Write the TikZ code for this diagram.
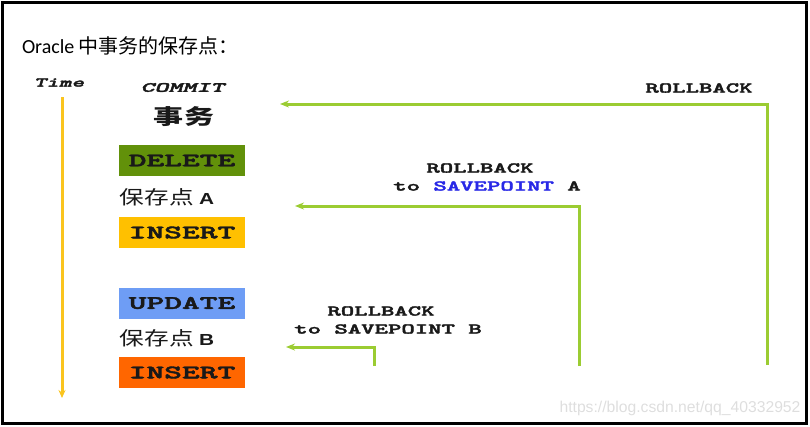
\documentclass[tikz,border=0pt]{standalone}
\usepackage{fontspec}
\usepackage{graphicx}
\setmainfont{Carlito}
\newfontfamily\cjk{Noto Sans CJK SC}
\newfontfamily\lsans{Liberation Sans}
\newfontfamily\monob{lmmonolt10-bold}[Extension=.otf, FakeBold=2]
\newfontfamily\monobi{lmmonolt10-boldoblique}[Extension=.otf, FakeBold=2]
\usetikzlibrary{arrows.meta}
\definecolor{delgreen}{RGB}{98,145,10}
\definecolor{insyellow}{RGB}{255,192,0}
\definecolor{updblue}{RGB}{110,157,245}
\definecolor{insorange}{RGB}{255,102,0}
\definecolor{rbgreen}{RGB}{155,204,50}
\definecolor{timeyellow}{RGB}{250,196,30}
\definecolor{svblue}{RGB}{40,40,230}
\definecolor{txt}{RGB}{25,25,25}
\definecolor{wm}{RGB}{222,222,222}
\newcommand{\sx}[2]{\scalebox{#1}[1]{#2}}
\begin{document}
\begin{tikzpicture}[x=1pt,y=-1pt,
  every node/.style={inner sep=0pt, outer sep=0pt},
  ann/.style={font=\fontsize{15}{15}\selectfont\monob, text=txt},
  opbox/.style={minimum width=126pt, minimum height=31pt, text=txt,
    font=\fontsize{19}{19}\selectfont\monob},
  cjklabel/.style={font=\fontsize{19}{19}\selectfont, text=txt},
  rb/.style={draw=rbgreen, line width=3pt, -{Stealth[length=9pt,width=7pt]}},
  timeline/.style={draw=timeyellow, line width=3pt, -{Stealth[length=8pt,width=7pt]}}
]
\useasboundingbox (0,0) rectangle (810,426);
\draw[line width=3pt] (2.5,2.5) rectangle (806.5,423.5);

% title
\node[anchor=base west, font=\fontsize{20}{20}\selectfont] (title) at (22,53)
  {Oracle {\cjk 中事务的保存点：}};

% time axis
\node[font=\fontsize{13.6}{13.6}\selectfont\monobi, text=txt] (time) at (59,82.5) {\sx{1.76}{Time}};
\coordinate (t0) at (62,97);
\coordinate (t1) at (62,398);
\draw[timeline] (t0) -- (t1);

% commit / transaction
\node[font=\fontsize{14}{14}\selectfont\monobi, text=txt] (commit) at (182.5,87.5) {\sx{1.9}{COMMIT}};
\node[font=\fontsize{21}{21}\selectfont\cjk\bfseries, text=txt] (tx) at (184,117) {\sx{1.43}{事务}};

% operations
\node[opbox, fill=delgreen] (del) at (182,160.5) {\sx{1.78}{DELETE}};
\node[cjklabel] (svA) at (167,197) {\sx{1.3}{{\cjk 保存点}\hspace{4pt}{\lsans\bfseries\fontsize{16}{16}\selectfont A}}};
\node[opbox, fill=insyellow] (insA) at (182,232.5) {\sx{1.78}{INSERT}};
\node[opbox, fill=updblue] (upd) at (182,303) {\sx{1.78}{UPDATE}};
\node[cjklabel] (svB) at (167,338.5) {\sx{1.3}{{\cjk 保存点}\hspace{4pt}{\lsans\bfseries\fontsize{16}{16}\selectfont B}}};
\node[opbox, fill=insorange] (insB) at (182,372.5) {\sx{1.78}{INSERT}};

% rollback labels
\node[ann] (rb0) at (699,88) {\sx{1.7}{ROLLBACK}};
\node[ann] (rbA1) at (480,168) {\sx{1.7}{ROLLBACK}};
\node[ann] (rbA2) at (487,186) {\sx{1.7}{to \textcolor{svblue}{SAVEPOINT} A}};
\node[ann] (rbB1) at (381,311) {\sx{1.7}{ROLLBACK}};
\node[ann] (rbB2) at (388,329) {\sx{1.7}{to SAVEPOINT B}};

% rollback arrows
\coordinate (r0s) at (767,365);
\coordinate (r0e) at (280,104);
\coordinate (rAs) at (579,366);
\coordinate (rAe) at (295,206);
\coordinate (rBs) at (374,366);
\coordinate (rBe) at (286,347);
\draw[rb] (r0s) |- (r0e);
\draw[rb] (rAs) |- (rAe);
\draw[rb] (rBs) |- (rBe);

% watermark
\node[font=\fontsize{15.7}{15.7}\selectfont\lsans, text=wm] (wmark) at (680,408) {https://blog.csdn.net/qq\_40332952};
\end{tikzpicture}
\end{document}
